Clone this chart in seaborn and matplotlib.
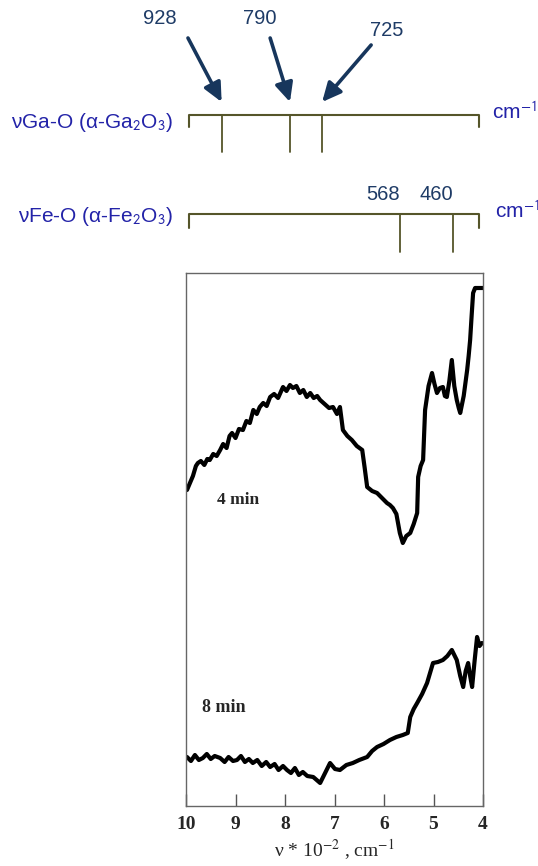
import numpy as np
import pandas as pd
import matplotlib
matplotlib.use("Agg")
import matplotlib.pyplot as plt
import seaborn as sns

# ---- data ----
wn_4min = [9.98, 9.92, 9.86, 9.80, 9.76, 9.70, 9.63, 9.57, 9.52, 9.45, 9.38, 9.31, 9.25, 9.18, 9.12,
           9.07, 9.00, 8.93, 8.85, 8.78, 8.71, 8.64, 8.57, 8.51, 8.44, 8.37, 8.30, 8.22, 8.14, 8.04,
           7.97, 7.90, 7.84, 7.77, 7.70, 7.63, 7.56, 7.49, 7.42, 7.35, 7.29, 7.20, 7.11, 7.03, 6.95,
           6.89, 6.83, 6.74, 6.65, 6.55, 6.44, 6.39, 6.34, 6.24, 6.14, 6.04, 5.94, 5.88, 5.82, 5.75,
           5.68, 5.62, 5.55, 5.47, 5.40, 5.33, 5.31, 5.26, 5.21, 5.17, 5.10, 5.03, 4.98, 4.93, 4.87,
           4.81, 4.77, 4.73, 4.68, 4.63, 4.58, 4.53, 4.49, 4.46, 4.39, 4.32, 4.29, 4.26, 4.23, 4.20,
           4.16, 4.12, 4.06, 4.00]
int_4min = [3.16, 3.23, 3.30, 3.40, 3.43, 3.45, 3.41, 3.47, 3.46, 3.52, 3.50, 3.56, 3.62, 3.58, 3.70,
            3.73, 3.68, 3.77, 3.76, 3.85, 3.83, 3.96, 3.92, 3.99, 4.03, 4.00, 4.09, 4.12, 4.08, 4.19,
            4.15, 4.21, 4.18, 4.20, 4.13, 4.16, 4.09, 4.13, 4.08, 4.10, 4.06, 4.02, 3.98, 3.99, 3.92,
            3.99, 3.76, 3.70, 3.66, 3.60, 3.56, 3.38, 3.19, 3.15, 3.13, 3.08, 3.03, 3.01, 2.98, 2.92,
            2.73, 2.63, 2.70, 2.73, 2.82, 2.93, 3.29, 3.40, 3.46, 3.96, 4.20, 4.33, 4.22, 4.13, 4.18,
            4.19, 4.10, 4.09, 4.25, 4.46, 4.20, 4.06, 3.98, 3.93, 4.10, 4.36, 4.50, 4.66, 4.90, 5.13,
            5.18, 5.18, 5.18, 5.18]

wn_8min = [9.98, 9.90, 9.82, 9.74, 9.66, 9.58, 9.50, 9.42, 9.31, 9.22, 9.14, 9.05, 8.97, 8.89, 8.81,
           8.73, 8.65, 8.56, 8.47, 8.38, 8.30, 8.21, 8.13, 8.04, 7.96, 7.88, 7.80, 7.72, 7.64, 7.55,
           7.43, 7.36, 7.29, 7.20, 7.09, 6.99, 6.89, 6.76, 6.63, 6.50, 6.34, 6.24, 6.14, 6.01, 5.88,
           5.75, 5.62, 5.52, 5.47, 5.40, 5.33, 5.23, 5.13, 5.07, 5.01, 4.91, 4.81, 4.72, 4.63, 4.57,
           4.53, 4.46, 4.40, 4.35, 4.30, 4.26, 4.22, 4.17, 4.12, 4.07, 4.02]
int_8min = [0.49, 0.45, 0.51, 0.46, 0.48, 0.52, 0.47, 0.50, 0.48, 0.44, 0.49, 0.45, 0.46, 0.50, 0.44,
            0.47, 0.43, 0.46, 0.40, 0.44, 0.39, 0.42, 0.36, 0.40, 0.36, 0.33, 0.38, 0.31, 0.34, 0.30,
            0.29, 0.26, 0.23, 0.32, 0.43, 0.37, 0.36, 0.41, 0.43, 0.46, 0.49, 0.55, 0.59, 0.62, 0.66,
            0.69, 0.71, 0.73, 0.89, 0.97, 1.03, 1.12, 1.23, 1.33, 1.43, 1.44, 1.46, 1.50, 1.56, 1.50,
            1.46, 1.30, 1.19, 1.35, 1.43, 1.30, 1.19, 1.45, 1.69, 1.60, 1.63]

xticks = [10, 9, 8, 7, 6, 5, 4]
ga_peaks = [928, 790, 725]
fe_peaks = [568, 460]
ga_label = r"νGa-O (α-Ga$_\mathsf{2}$O$_\mathsf{3}$)"
fe_label = r"νFe-O (α-Fe$_\mathsf{2}$O$_\mathsf{3}$)"
unit_label = r"cm$^\mathsf{-1}$"
series_labels = ["4 min", "8 min"]

df = pd.concat([
    pd.DataFrame({"wn": wn_4min, "I": int_4min, "t": series_labels[0]}),
    pd.DataFrame({"wn": wn_8min, "I": int_8min, "t": series_labels[1]}),
])

sns.set_theme(style="white")
plt.rcParams["font.family"] = ["Liberation Serif", "DejaVu Serif"]
plt.rcParams["mathtext.fontset"] = "stix"

W, H = 538, 866
fig = plt.figure(figsize=(W / 100, H / 100), dpi=100)

# main spectrum axes
ax = fig.add_axes([186 / W, 1 - 806 / H, 297 / W, 533 / H])
sns.lineplot(data=df, x="wn", y="I", units="t", estimator=None, sort=False,
             color="black", lw=3.0, ax=ax, legend=False)
ax.set_xlim(10, 4)
ax.set_ylim(0, 5.33)
ax.set_yticks([])
ax.set_xticks(xticks)
ax.set_xticklabels([str(t) for t in xticks], fontweight="bold", fontsize=14)
ax.tick_params(axis="x", direction="in", length=9, width=1, color="#555555", pad=7, bottom=True)
for s in ax.spines.values():
    s.set_color("#666666")
    s.set_linewidth(1.0)
ax.set_xlabel(r"ν * 10$^{-2}$ , cm$^{-1}$", fontsize=14, labelpad=3)
ax.set_ylabel("")
ax.text(9.37, 3.06, series_labels[0], fontsize=12.5, fontweight="bold", va="center", ha="left")
ax.text(9.68, 0.99, series_labels[1], fontsize=13, fontweight="bold", va="center", ha="left")

# schematic axes (same x scale, y in layout units)
sa = fig.add_axes([186 / W, 1 - 262 / H, 297 / W, 262 / H])
sa.set_xlim(10, 4)
sa.set_ylim(262, 0)
sa.axis("off")

ruler_c = "#55552a"
lab_c = "#2323a8"
num_c = "#1e3b66"
arrow_c = "#17365c"
sans = ["Liberation Sans", "DejaVu Sans"]

def ruler(y, peaks, end_len, tick_len):
    x0, x1 = 9.94, 4.08
    sa.plot([x0, x1], [y, y], color=ruler_c, lw=1.5, clip_on=False, solid_capstyle="butt")
    sa.plot([x0, x0], [y, y + end_len], color=ruler_c, lw=1.5, clip_on=False)
    sa.plot([x1, x1], [y, y + end_len], color=ruler_c, lw=1.5, clip_on=False)
    for p in peaks:
        sa.plot([p / 100, p / 100], [y, y + tick_len], color=ruler_c, lw=1.3, clip_on=False)

ruler(115, ga_peaks, 12, 37)
ruler(214, fe_peaks, 14, 38)

sa.text(10.26, 122, ga_label, color=lab_c, fontsize=15, ha="right", va="center",
        family=sans, clip_on=False)
sa.text(10.26, 216, fe_label, color=lab_c, fontsize=15, ha="right", va="center",
        family=sans, clip_on=False)
sa.text(3.82, 112, unit_label, color=lab_c, fontsize=15, ha="left", va="center",
        family=sans, clip_on=False)
sa.text(3.76, 211, unit_label, color=lab_c, fontsize=15, ha="left", va="center",
        family=sans, clip_on=False)

# arrows with labels
arrow_tail = [(9.96, 38), (8.30, 38), (6.26, 45)]
label_pos = [(10.53, 19), (8.51, 19), (5.94, 31)]
for p, tail, lp in zip(ga_peaks, arrow_tail, label_pos):
    sa.annotate("", xy=(p / 100, 102), xytext=tail,
                arrowprops=dict(arrowstyle="-|>,head_length=0.95,head_width=0.45",
                                color=arrow_c, lw=2.6, shrinkA=0, shrinkB=0),
                annotation_clip=False)
    sa.text(lp[0], lp[1], str(p), color=num_c, fontsize=14.5, ha="center", va="center",
            family=sans, clip_on=False)

for p in fe_peaks:
    sa.text(p / 100, 195, str(p), color=num_c, fontsize=14.5, ha="right", va="center",
            family=sans, clip_on=False)

fig.savefig("out.png", dpi=100, facecolor="white")
